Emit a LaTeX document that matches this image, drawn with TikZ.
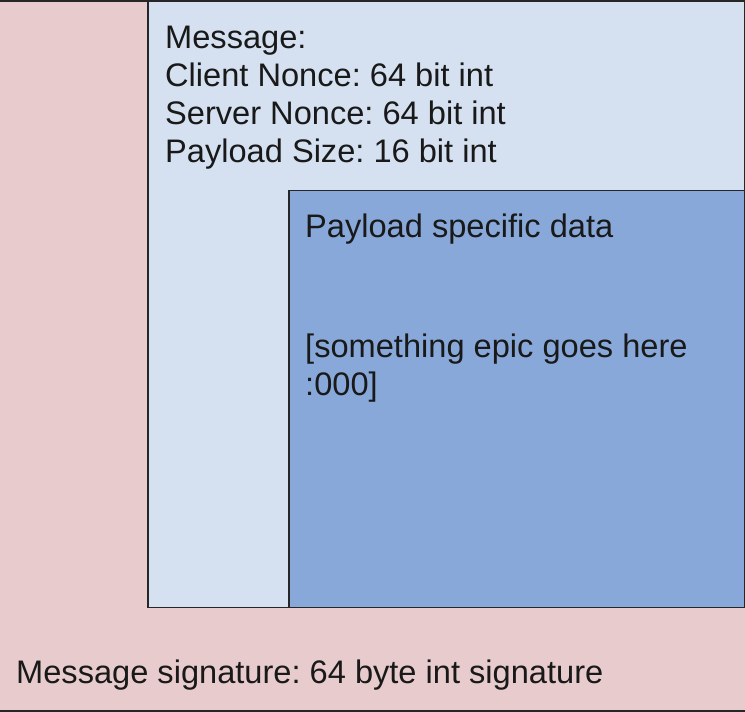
\documentclass[tikz,border=0pt]{standalone}
\usepackage{fontspec}
\setmainfont{Liberation Sans}
\frenchspacing
\definecolor{sigpink}{HTML}{E8CBCC}
\definecolor{msgblue}{HTML}{D5E1F1}
\definecolor{payblue}{HTML}{87A8D9}
\begin{document}
\begin{tikzpicture}[x=1pt,y=1pt,
  frame/.style={draw=black!85, line width=1.5pt},
  label/.style={anchor=base west, inner sep=0pt, font=\fontsize{32.6}{38}\selectfont, text=black!90}]
\useasboundingbox (0,0) rectangle (745,712);
% signature envelope
\fill[sigpink] (0,0) rectangle (745,712);
\draw[frame] (0,711) -- (745,711);
\draw[frame] (0,1) -- (745,1);
% message block
\node[frame, fill=msgblue, minimum width=597pt, minimum height=606pt, anchor=north west, inner sep=0pt] (msg) at (147,711) {};
% payload block
\node[frame, fill=payblue, minimum width=456pt, minimum height=417pt, anchor=south east, inner sep=0pt] (pay) at (msg.south east) {};
% texts
\node[label] (m1) at (165,663) {Message:};
\node[label] (m2) at (165,625) {Client Nonce: 64 bit int};
\node[label] (m3) at (165,587) {Server Nonce: 64 bit int};
\node[label] (m4) at (165,549) {Payload Size: 16 bit int};
\node[label] (p1) at (305,474) {Payload specific data};
\node[label] (p2) at (305,354) {[something epic goes here};
\node[label] (p3) at (305,316) {:000]};
\node[label] (s1) at (16,28) {Message signature: 64 byte int signature};
\end{tikzpicture}
\end{document}
